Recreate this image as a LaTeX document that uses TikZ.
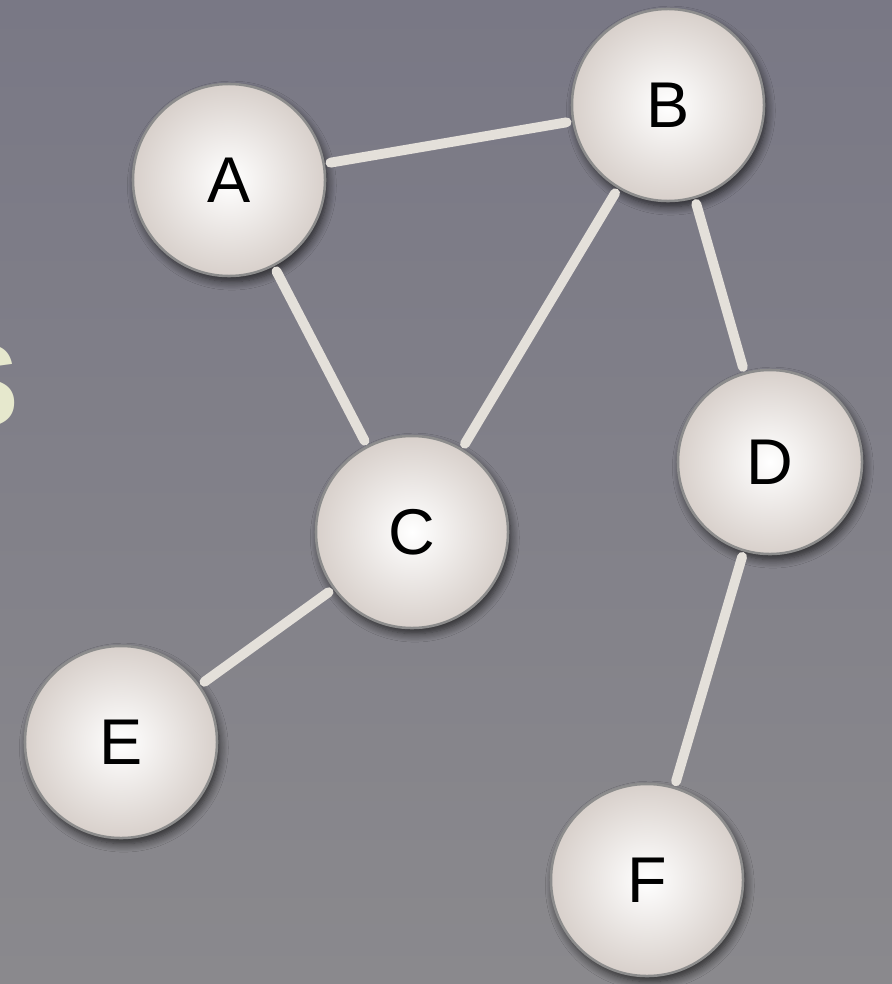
\documentclass[tikz,border=0pt]{standalone}
\usepackage{fontspec}
\setmainfont{Liberation Sans}
\usetikzlibrary{shadows.blur}

\definecolor{bgtop}{HTML}{797885}
\definecolor{bgbot}{HTML}{8A898D}
\definecolor{ballrim}{HTML}{D8D0CB}
\definecolor{ballline}{HTML}{8C8C8C}
\definecolor{linkcol}{HTML}{E4E0DA}
\definecolor{titlecol}{HTML}{E6E8CD}

\tikzset{
	ball/.style={circle, minimum size=4.8cm, inner sep=0pt,
		inner color=white, outer color=ballrim, draw=ballline, line width=1.8pt,
		font=\fontsize{46}{54}\selectfont,
		blur shadow={shadow xshift=2pt, shadow yshift=-4pt, shadow blur radius=6pt, shadow blur steps=8, shadow opacity=70}},
	link/.style={draw=linkcol, line width=7pt, line cap=round, shorten >=4pt, shorten <=4pt}
}

\begin{document}
\begin{tikzpicture}[x=0.025cm,y=-0.025cm]
				\useasboundingbox (0,0) rectangle (892,984);
				\clip (0,0) rectangle (892,984);
				\shade[top color=bgtop, bottom color=bgbot] (0,0) rectangle (892,984);
				%% cut off title letter
				\node[text=titlecol, font=\fontsize{84}{96}\selectfont\bfseries, inner sep=0pt] (title) at (-20,386) {S};
				
				%% nodes
				\node[ball] (A) at (229,180) {A};
				\node[ball] (B) at (668,105) {B};
				\node[ball] (C) at (412,532) {C};
				\node[ball, minimum size=4.6cm] (D) at (770,462) {D};
				\node[ball] (E) at (121,742) {E};
				\node[ball] (F) at (647,880) {F};
				
				%% links
				\draw[link] (A) -- (B);
				\draw[link] (A) -- (C);
				\draw[link] (B) -- (C);
				\draw[link] (B) -- (D);
				\draw[link] (C) -- (E);
				\draw[link] (D) -- (F);
\end{tikzpicture}
\end{document}
